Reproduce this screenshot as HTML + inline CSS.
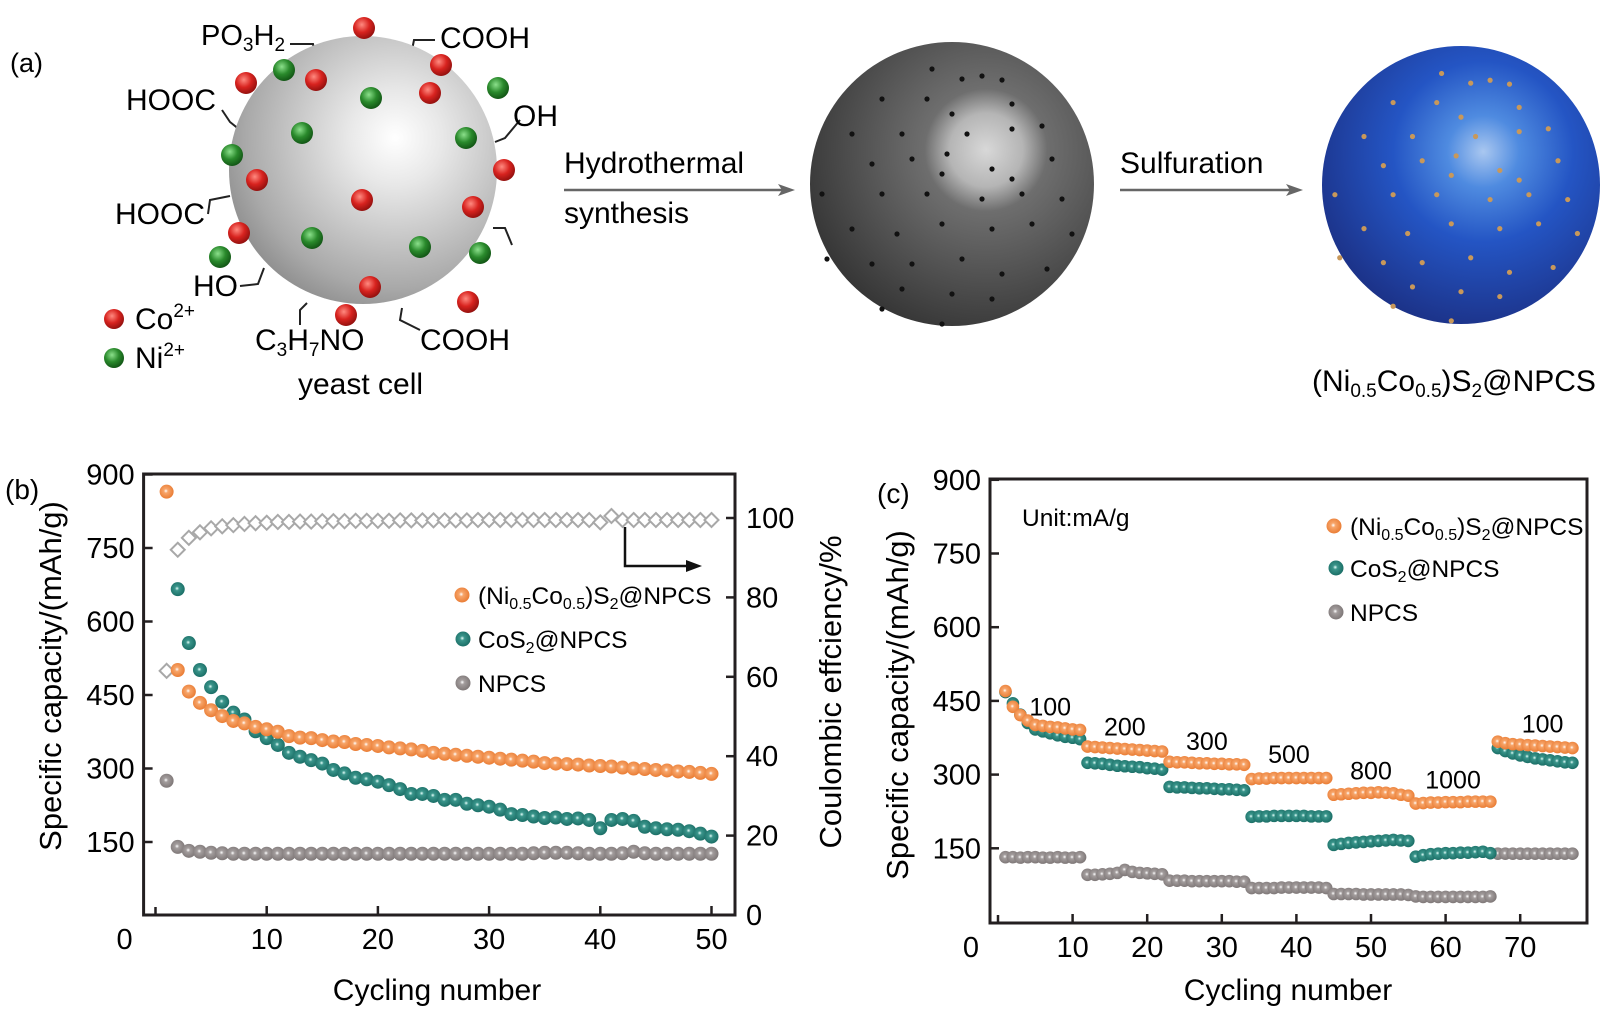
<!DOCTYPE html>
<html><head><meta charset="utf-8"><style>
html,body{margin:0;padding:0;background:#fff;}
svg{display:block;font-family:"Liberation Sans",Arial,sans-serif;}
</style></head><body>
<svg id="fig" width="1614" height="1018" viewBox="0 0 1614 1018" xmlns="http://www.w3.org/2000/svg">
<defs>
<radialGradient id="gYeast" cx="0.62" cy="0.38" r="0.7"><stop offset="0" stop-color="#ffffff"/><stop offset="0.25" stop-color="#e8e8e8"/><stop offset="0.8" stop-color="#a9a9a9"/><stop offset="1" stop-color="#8a8a8a"/></radialGradient>
<radialGradient id="gGray" cx="0.62" cy="0.38" r="0.72"><stop offset="0" stop-color="#d8d8d8"/><stop offset="0.18" stop-color="#b5b5b5"/><stop offset="0.3" stop-color="#6e6e6e"/><stop offset="1" stop-color="#303030"/></radialGradient>
<radialGradient id="gBlue" cx="0.58" cy="0.38" r="0.72"><stop offset="0" stop-color="#a9c7f0"/><stop offset="0.18" stop-color="#4f8be0"/><stop offset="0.45" stop-color="#2455c4"/><stop offset="1" stop-color="#1a2a7a"/></radialGradient>
<radialGradient id="gRed" cx="0.4" cy="0.35" r="0.7"><stop offset="0" stop-color="#ff8a80"/><stop offset="0.5" stop-color="#d8231f"/><stop offset="1" stop-color="#8a0e0c"/></radialGradient>
<radialGradient id="gGreen" cx="0.4" cy="0.35" r="0.7"><stop offset="0" stop-color="#8be08b"/><stop offset="0.5" stop-color="#2a8a2c"/><stop offset="1" stop-color="#0f4f12"/></radialGradient>
<radialGradient id="mO" cx="0.45" cy="0.45" r="0.6"><stop offset="0" stop-color="#fff"/><stop offset="0.25" stop-color="#f7a56a"/><stop offset="1" stop-color="#e8782e"/></radialGradient>
<radialGradient id="mT" cx="0.45" cy="0.45" r="0.6"><stop offset="0" stop-color="#e6fffb"/><stop offset="0.25" stop-color="#3a958b"/><stop offset="1" stop-color="#176a62"/></radialGradient>
<radialGradient id="mG" cx="0.45" cy="0.45" r="0.6"><stop offset="0" stop-color="#fff"/><stop offset="0.25" stop-color="#a39d9d"/><stop offset="1" stop-color="#7a7373"/></radialGradient>
</defs>

<!-- Panel a -->
<g id="panel-a">
<text x="10" y="72" font-size="27">(a)</text>
<g stroke="#222" stroke-width="2" fill="none">
<polyline points="290,44 313,44 315,54"/>
<polyline points="435,40 414,40 412,50"/>
<polyline points="222,110 230,122 240,130"/>
<polyline points="520,120 505,138 495,142"/>
<polyline points="208,214 210,200 230,196"/>
<polyline points="240,286 258,284 264,268"/>
<polyline points="493,228 505,228 512,245"/>
<polyline points="300,325 300,310 307,303"/>
<polyline points="420,330 400,320 402,308"/>
</g>
<circle cx="363" cy="170" r="134" fill="url(#gYeast)"/>
<g id="ions"></g>
<text x="201" y="45" font-size="29">PO<tspan font-size="19" dy="6">3</tspan><tspan dy="-6">H</tspan><tspan font-size="19" dy="6">2</tspan></text>
<text x="440" y="48" font-size="30">COOH</text>
<text x="126" y="110" font-size="30">HOOC</text>
<text x="513" y="126" font-size="30">OH</text>
<text x="115" y="224" font-size="30">HOOC</text>
<text x="193" y="296" font-size="30">HO</text>
<text x="255" y="350" font-size="30">C<tspan font-size="19" dy="6">3</tspan><tspan dy="-6">H</tspan><tspan font-size="19" dy="6">7</tspan><tspan dy="-6">NO</tspan></text>
<text x="420" y="350" font-size="30">COOH</text>
<text x="298" y="394" font-size="30">yeast cell</text>
<circle cx="114" cy="319" r="10" fill="url(#gRed)"/>
<text x="135" y="329" font-size="30">Co<tspan font-size="19" dy="-12">2+</tspan></text>
<circle cx="114" cy="358" r="10" fill="url(#gGreen)"/>
<text x="135" y="368" font-size="30">Ni<tspan font-size="19" dy="-12">2+</tspan></text>

<text x="564" y="173" font-size="30">Hydrothermal</text>
<text x="564" y="223" font-size="30">synthesis</text>
<line x1="564" y1="190" x2="786" y2="190" stroke="#666" stroke-width="2.5"/>
<polygon points="795,190 778,184 782,190 778,196" fill="#666"/>
<ellipse cx="952" cy="184" rx="142" ry="142" fill="url(#gGray)"/>
<g id="graydots" fill="#111"></g>
<text x="1120" y="173" font-size="30">Sulfuration</text>
<line x1="1120" y1="190" x2="1294" y2="190" stroke="#666" stroke-width="2.5"/>
<polygon points="1303,190 1286,184 1290,190 1286,196" fill="#666"/>
<ellipse cx="1461" cy="185" rx="139" ry="139" fill="url(#gBlue)"/>
<g id="bluedots" fill="#c8985a"></g>
<text x="1312" y="391" font-size="30">(Ni<tspan font-size="19" dy="6">0.5</tspan><tspan dy="-6">Co</tspan><tspan font-size="19" dy="6">0.5</tspan><tspan dy="-6">)S</tspan><tspan font-size="19" dy="6">2</tspan><tspan dy="-6">@NPCS</tspan></text>
</g>

<!-- Panel b -->
<g id="panel-b">
<text x="5" y="499" font-size="28">(b)</text>
<text transform="translate(61,676) rotate(-90)" text-anchor="middle" font-size="31">Specific capacity/(mAh/g)</text>
<text transform="translate(841,692) rotate(-90)" text-anchor="middle" font-size="31">Coulombic effciency/%</text>
<text x="437" y="1000" text-anchor="middle" font-size="30">Cycling number</text>
<g id="bAxes"></g>
<g id="bMarks"></g>
<polyline points="625,527 625,566 690,566" fill="none" stroke="#111" stroke-width="2.5"/>
<polygon points="702,566 686,560 686,572" fill="#111"/>
<g>
<circle cx="462" cy="595" r="7.5" fill="url(#mO)"/>
<text x="478" y="604" font-size="24.5">(Ni<tspan font-size="16" dy="5">0.5</tspan><tspan dy="-5">Co</tspan><tspan font-size="16" dy="5">0.5</tspan><tspan dy="-5">)S</tspan><tspan font-size="16" dy="5">2</tspan><tspan dy="-5">@NPCS</tspan></text>
<circle cx="463" cy="639" r="7.5" fill="url(#mT)"/>
<text x="478" y="648" font-size="24.5">CoS<tspan font-size="16" dy="5">2</tspan><tspan dy="-5">@NPCS</tspan></text>
<circle cx="463" cy="683" r="7.5" fill="url(#mG)"/>
<text x="478" y="692" font-size="24.5">NPCS</text>
</g>
</g>

<!-- Panel c -->
<g id="panel-c">
<text x="877" y="503" font-size="28">(c)</text>
<text transform="translate(908,705) rotate(-90)" text-anchor="middle" font-size="31">Specific capacity/(mAh/g)</text>
<text x="1288" y="1000" text-anchor="middle" font-size="30">Cycling number</text>
<text x="1022" y="526" font-size="24.5">Unit:mA/g</text>
<g id="cAxes"></g>
<g id="cMarks"></g>
<g id="cRates"></g>
<g>
<circle cx="1334" cy="526" r="7.5" fill="url(#mO)"/>
<text x="1350" y="535" font-size="24.5">(Ni<tspan font-size="16" dy="5">0.5</tspan><tspan dy="-5">Co</tspan><tspan font-size="16" dy="5">0.5</tspan><tspan dy="-5">)S</tspan><tspan font-size="16" dy="5">2</tspan><tspan dy="-5">@NPCS</tspan></text>
<circle cx="1336" cy="568" r="7.5" fill="url(#mT)"/>
<text x="1350" y="577" font-size="24.5">CoS<tspan font-size="16" dy="5">2</tspan><tspan dy="-5">@NPCS</tspan></text>
<circle cx="1336" cy="612" r="7.5" fill="url(#mG)"/>
<text x="1350" y="621" font-size="24.5">NPCS</text>
</g>
</g>
</svg>
<script>
// ---------- Panel b data ----------
const bCycles = Array.from({length:50},(_,i)=>i+1);
const bNiCo = [865,501,457,434,419,407,397,392,385,380,375,366,363,362,358,355,354,350,348,346,343,341,339,336,332,330,328,326,324,322,320,318,316,314,311,310,309,308,306,305,304,302,300,299,297,296,294,293,291,289];
const bCoS2 = [null,666,556,501,466,436,414,400,376,362,348,332,324,317,310,297,290,281,278,273,266,258,248,248,244,236,236,228,225,222,216,207,205,202,199,200,197,198,195,178,195,197,193,181,178,176,175,172,167,161];
const bNPCS = [275,140,132,130,128,127,126,126,126,126,126,126,126,126,126,126,126,126,126,126,126,126,126,126,126,126,126,126,126,126,126,126,126,127,128,128,128,127,126,126,126,127,130,127,126,126,126,126,126,126];
const bCE = [61.5,92,95,96.4,97.4,97.9,98.2,98.5,98.7,98.8,99,99,99.1,99.1,99.2,99.2,99.2,99.3,99.3,99.3,99.3,99.4,99.4,99.4,99.4,99.4,99.4,99.4,99.5,99.5,99.5,99.5,99.5,99.5,99.5,99.5,99.5,99.5,99.5,98.9,100.5,99.5,99.5,99.5,99.5,99.5,99.5,99.5,99.5,99.5];
const bYTicks = [150,300,450,600,750,900];
const bY2Ticks = [0,20,40,60,80,100];
const bXTicks = [10,20,30,40,50];

// ---------- Panel c data ----------
const cCycles = Array.from({length:77},(_,i)=>i+1);
const cNiCo = [470,438,421,410,401,399,397,396,394,392,391, 357,356,355,354,353,352,351,350,349,348,347, 326,325,325,324,323,323,322,322,321,321,320, 291,292,292,293,293,293,293,293,293,293,293, 259,260,261,262,263,263,264,263,262,259,257, 241,242,243,243,244,244,244,245,245,245,245, 367,364,362,361,360,359,358,357,356,355,354];
const cCoS2 = [468,445,422,405,392,388,384,380,377,375,372, 324,323,322,320,318,317,316,315,313,312,310, 275,274,274,273,272,272,271,270,270,269,268, 214,215,215,216,216,216,216,216,215,215,215, 157,159,161,162,163,164,165,166,167,166,165, 133,136,138,139,140,140,141,141,142,143,140, 354,348,343,339,336,333,331,329,327,325,324];
const cNPCS = [132,132,131,132,132,131,131,132,131,131,132, 96,96,97,98,100,106,102,100,99,98,97, 84,84,84,83,83,83,83,83,83,82,82, 69,69,69,69,70,70,70,70,70,70,69, 57,57,57,57,56,56,56,56,56,56,55, 52,51,51,51,51,51,51,51,51,51,52, 139,139,139,139,139,139,139,139,139,139,139];
const cYTicks = [150,300,450,600,750,900];
const cXTicks = [10,20,30,40,50,60,70];
const cRateLabels = ["100","200","300","500","800","1000","100"];
const cRateX = [7,17,28,39,50,61,73];
const cRateY = [420,380,350,324,290,272,386];

const NS="http://www.w3.org/2000/svg";
function mk(tag,attrs,parent){const e=document.createElementNS(NS,tag);for(const k in attrs)e.setAttribute(k,attrs[k]);parent.appendChild(e);return e;}

// axis functions
const bx = v => 155.5 + v*11.12;
const by = v => 915.5 - v*(73.5/150);
const by2 = v => 915 - v*3.97;
const cx = v => 998 + v*7.46;
const cy = v => 922 - v*(73.7/150);

function drawAxes(g, box, xt, xs, yt, ys){
  const r=mk('rect',{x:box[0],y:box[1],width:box[2]-box[0],height:box[3]-box[1],fill:'none',stroke:'#231f20','stroke-width':3},g);
  
  
  const t0=mk('line',{x1:xs(0),x2:xs(0),y1:box[3],y2:box[3]-8,stroke:'#231f20','stroke-width':2.5},g);
  
  
  xt.forEach(v=>{
    const l=mk('line',{x1:xs(v),x2:xs(v),y1:box[3],y2:box[3]-9,stroke:'#231f20','stroke-width':2.5},g);
    
    
    const t=mk('text',{x:xs(v),y:box[3]+34,'text-anchor':'middle','font-size':29},g);t.textContent=v;
    
    
  });
  yt.forEach(v=>{
    const l=mk('line',{x1:box[0],x2:box[0]+9,y1:ys(v),y2:ys(v),stroke:'#231f20','stroke-width':2.5},g);
    
    
    const t=mk('text',{x:box[0]-9,y:ys(v)+10,'text-anchor':'end','font-size':29},g);t.textContent=v;
    
    
  });
  const z=mk('text',{x:box[0]-19,y:box[3]+34,'text-anchor':'middle','font-size':29},g);z.textContent='0';
  
  
}

function drawSeries(g, xs, ys, xsF, vals, grad, name, r){
  vals.forEach((v,i)=>{
    if(v===null) return;
    const c=mk('circle',{cx:xsF(xs[i]),cy:ys(v),r:r,fill:grad},g);
    
    
  });
}

// Panel b
const bA=document.getElementById('bAxes'), bM=document.getElementById('bMarks');
drawAxes(bA,[143.6,474,735,915],bXTicks,bx,bYTicks,by);
bY2Ticks.forEach(v=>{
  const l=mk('line',{x1:735,x2:726,y1:by2(v),y2:by2(v),stroke:'#231f20','stroke-width':2.5},bA);
  
  
  const t=mk('text',{x:746,y:by2(v)+10,'font-size':29},bA);t.textContent=v;
  
  
});
bCE.forEach((v,i)=>{
  const X=bx(bCycles[i]),Y=by2(v),s=7;
  const p=mk('polygon',{points:`${X},${Y-s} ${X+s},${Y} ${X},${Y+s} ${X-s},${Y}`,fill:'#fff',stroke:'#a8a8a8','stroke-width':2},bM);
  
  
});
drawSeries(bM,bCycles,by,bx,bNPCS,'url(#mG)','npcs-point',7);
drawSeries(bM,bCycles,by,bx,bCoS2,'url(#mT)','cos2-point',7);
drawSeries(bM,bCycles,by,bx,bNiCo,'url(#mO)','nico-point',7);

// Panel c
const cA=document.getElementById('cAxes'), cM=document.getElementById('cMarks');
drawAxes(cA,[990,479,1587,923],cXTicks,cx,cYTicks,cy);
drawSeries(cM,cCycles,cy,cx,cNPCS,'url(#mG)','npcs-point-c',6.3);
drawSeries(cM,cCycles,cy,cx,cCoS2,'url(#mT)','cos2-point-c',6.3);
drawSeries(cM,cCycles,cy,cx,cNiCo,'url(#mO)','nico-point-c',6.3);
const cR=document.getElementById('cRates');
cRateLabels.forEach((s,i)=>{
  const t=mk('text',{x:cx(cRateX[i]),y:cy(cRateY[i]),'text-anchor':'middle','font-size':25},cR);t.textContent=s;
  
  
});

// Panel a decorations
const ions=document.getElementById('ions');
[[364,28],[316,80],[430,93],[246,83],[441,65],[257,180],[362,200],[473,207],[504,170],[239,233],[370,287],[468,302],[346,315]].forEach(p=>{
  const c=mk('circle',{cx:p[0],cy:p[1],r:11,fill:'url(#gRed)'},ions);
  
  
});
[[284,70],[371,98],[498,88],[302,133],[466,138],[232,155],[312,238],[420,247],[480,253],[220,257]].forEach(p=>{
  const c=mk('circle',{cx:p[0],cy:p[1],r:11,fill:'url(#gGreen)'},ions);
  
  
});
const dotsRel=[[-20,-115],[10,-105],[30,-108],[50,-104],[-70,-85],[-25,-85],[0,-70],[60,-80],[-100,-50],[-50,-50],[15,-50],[60,-55],[90,-58],[-80,-20],[-40,-25],[-10,-10],[40,-15],[100,-25],[-130,10],[-70,10],[-25,10],[30,15],[70,10],[110,15],[-100,45],[-55,50],[-10,40],[40,45],[80,40],[120,50],[-125,75],[-80,80],[-40,80],[10,75],[50,90],[95,85],[-50,105],[0,110],[40,115],[-70,125],[-10,140],[60,-5],[-5,-30]];
const gd=document.getElementById('graydots'), bd=document.getElementById('bluedots');
dotsRel.forEach(p=>{
  const a=mk('circle',{cx:952+p[0],cy:184+p[1],r:2.6},gd);
  
  
  const b=mk('circle',{cx:1461+p[0]*0.97,cy:185+p[1]*0.97,r:2.6},bd);
  
  
});
</script>
</body></html>
